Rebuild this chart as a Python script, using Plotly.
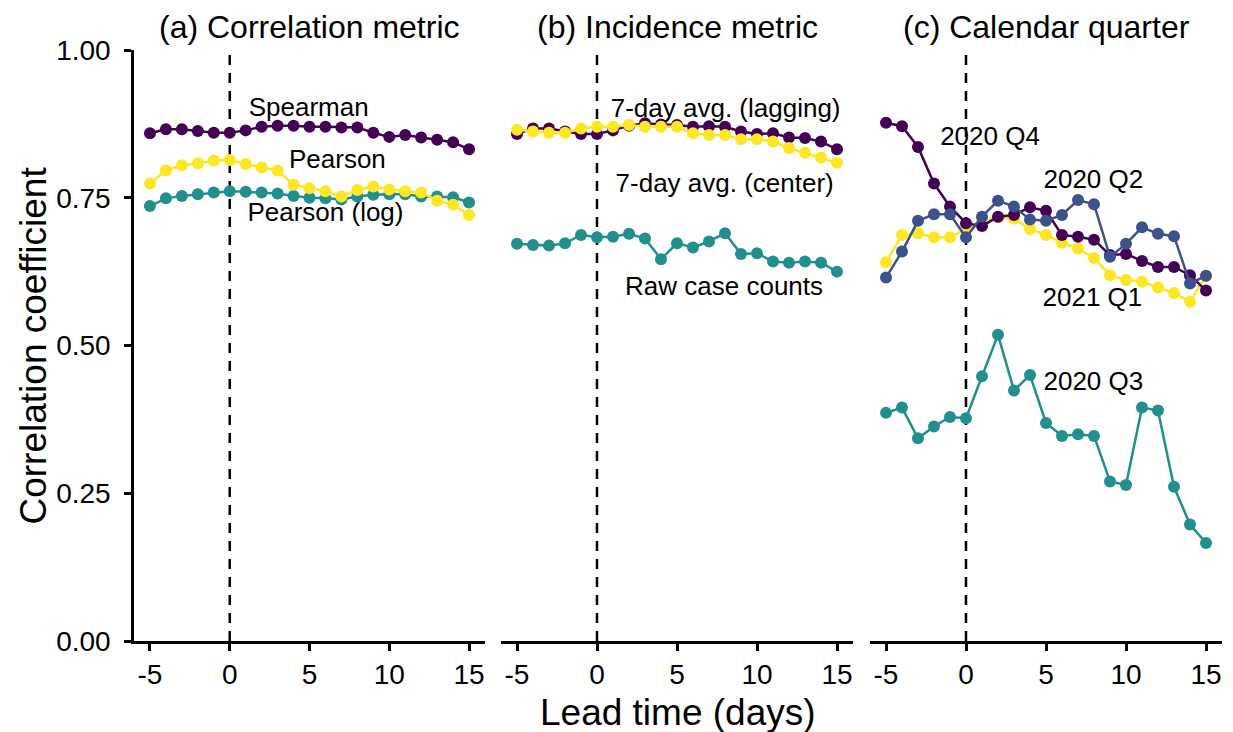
import plotly.graph_objects as go

# ---------------- data ----------------
lead = list(range(-5, 16))

a_spearman = [0.859, 0.866, 0.866, 0.863, 0.860, 0.860, 0.864, 0.870, 0.872, 0.872, 0.870,
              0.870, 0.869, 0.869, 0.860, 0.853, 0.856, 0.852, 0.848, 0.844, 0.832]
a_pearson = [0.774, 0.796, 0.805, 0.808, 0.813, 0.814, 0.807, 0.801, 0.796, 0.772, 0.766,
             0.761, 0.752, 0.763, 0.769, 0.764, 0.761, 0.759, 0.745, 0.738, 0.721]
a_pearson_log = [0.736, 0.749, 0.753, 0.756, 0.759, 0.761, 0.760, 0.759, 0.757, 0.753, 0.750,
                 0.749, 0.747, 0.752, 0.755, 0.756, 0.756, 0.752, 0.752, 0.751, 0.742]

b_lagging = [0.858, 0.867, 0.867, 0.862, 0.858, 0.858, 0.864, 0.872, 0.876, 0.874, 0.873,
             0.870, 0.871, 0.870, 0.862, 0.858, 0.859, 0.852, 0.851, 0.845, 0.832]
b_center = [0.865, 0.862, 0.860, 0.860, 0.867, 0.870, 0.870, 0.873, 0.870, 0.870, 0.870,
            0.859, 0.856, 0.856, 0.849, 0.849, 0.845, 0.834, 0.826, 0.818, 0.809]
b_raw = [0.672, 0.670, 0.669, 0.673, 0.687, 0.683, 0.684, 0.689, 0.681, 0.646, 0.673,
         0.666, 0.676, 0.690, 0.655, 0.656, 0.642, 0.640, 0.642, 0.640, 0.625]

c_q4 = [0.877, 0.871, 0.836, 0.774, 0.735, 0.707, 0.702, 0.718, 0.721, 0.734, 0.728,
        0.687, 0.684, 0.679, 0.653, 0.655, 0.643, 0.633, 0.633, 0.619, 0.593]
c_q2 = [0.615, 0.659, 0.711, 0.722, 0.722, 0.683, 0.718, 0.745, 0.735, 0.713, 0.711,
        0.721, 0.746, 0.739, 0.650, 0.672, 0.700, 0.689, 0.685, 0.605, 0.618]
c_q3 = [0.386, 0.395, 0.343, 0.363, 0.379, 0.377, 0.448, 0.518, 0.424, 0.450, 0.369,
        0.347, 0.350, 0.347, 0.270, 0.264, 0.395, 0.390, 0.261, 0.197, 0.166]
c_q1 = [0.641, 0.687, 0.690, 0.683, 0.683, 0.697, 0.712, 0.717, 0.715, 0.697, 0.687,
        0.674, 0.664, 0.648, 0.619, 0.611, 0.608, 0.598, 0.589, 0.574, 0.617]

panel_titles = ["(a) Correlation metric", "(b) Incidence metric", "(c) Calendar quarter"]
x_ticks = [-5, 0, 5, 10, 15]
x_ticktext = ["-5", "0", "5", "10", "15"]
y_ticks = [0.0, 0.25, 0.5, 0.75, 1.0]
y_ticktext = ["0.00", "0.25", "0.50", "0.75", "1.00"]
vline_x = 0

# labels: (text, x, y) per panel
labels_a = [("Spearman", 4.95, 0.900), ("Pearson", 6.75, 0.811), ("Pearson (log)", 6.0, 0.721)]
labels_b = [("7-day avg. (lagging)", 8.04, 0.898), ("7-day avg. (center)", 7.98, 0.770),
            ("Raw case counts", 7.94, 0.597)]
labels_c = [("2020 Q4", 1.5, 0.850), ("2020 Q2", 7.96, 0.777), ("2021 Q1", 7.9, 0.577),
            ("2020 Q3", 7.96, 0.436)]

PURPLE = "#440154"
BLUE = "#3B528B"
TEAL = "#21908C"
YELLOW = "#FDE725"

FONT = "Liberation Sans, Arial, Helvetica, sans-serif"

panels = [
    ("x", labels_a, [(a_spearman, PURPLE), (a_pearson_log, TEAL), (a_pearson, YELLOW)]),
    ("x2", labels_b, [(b_lagging, PURPLE), (b_raw, TEAL), (b_center, YELLOW)]),
    ("x3", labels_c, [(c_q1, YELLOW), (c_q4, PURPLE), (c_q3, TEAL), (c_q2, BLUE)]),
]

fig = go.Figure()
for xa, labels, series in panels:
    # text labels (drawn first, so reference line and data sit above)
    fig.add_trace(go.Scatter(
        x=[l[1] for l in labels], y=[l[2] for l in labels], text=[l[0] for l in labels],
        mode="text", textposition="middle center",
        textfont=dict(size=26, color="black", family=FONT),
        xaxis=xa, yaxis="y", showlegend=False, hoverinfo="skip", cliponaxis=False))
    # dashed reference line at lead 0
    fig.add_trace(go.Scatter(
        x=[vline_x, vline_x], y=[y_ticks[0], y_ticks[-1]], mode="lines",
        line=dict(color="black", width=2.5, dash="10px,8px"),
        xaxis=xa, yaxis="y", showlegend=False, hoverinfo="skip"))
    for vals, col in series:
        fig.add_trace(go.Scatter(
            x=lead, y=vals, mode="lines+markers",
            line=dict(color=col, width=2.5),
            marker=dict(color=col, size=12),
            xaxis=xa, yaxis="y", showlegend=False, cliponaxis=False))

L, R, T, B = 134, 11, 50, 91
W, H = 1233, 732
pw = W - L - R
doms = [(134, 485), (501, 853), (870, 1222)]
doms = [((a - L) / pw, (b - L) / pw) for a, b in doms]

xcommon = dict(range=[-6, 16], showline=True, linecolor="black", linewidth=2.5,
               ticks="outside", ticklen=7, tickwidth=2.5, tickcolor="black",
               tickvals=x_ticks, ticktext=x_ticktext, showgrid=False, zeroline=False,
               tickfont=dict(size=28, color="black", family=FONT), anchor="y")

fig.update_layout(
    width=W, height=H,
    margin=dict(l=L, r=R, t=T, b=B),
    plot_bgcolor="white", paper_bgcolor="white",
    font=dict(family=FONT, color="black"),
    xaxis=dict(domain=list(doms[0]), **xcommon),
    xaxis2=dict(domain=list(doms[1]), **xcommon),
    xaxis3=dict(domain=list(doms[2]), **xcommon),
    yaxis=dict(range=[0, 1], showline=True, linecolor="black", linewidth=2.5,
               ticks="outside", ticklen=7, tickwidth=2.5, tickcolor="black",
               tickvals=y_ticks, ticktext=y_ticktext, showgrid=False, zeroline=False,
               tickfont=dict(size=28, color="black", family=FONT), anchor="x",
               ticklabelstandoff=8),
    showlegend=False,
)

annotations = []
for (d0, d1), title in zip(doms, panel_titles):
    annotations.append(dict(text=title, x=(d0 + d1) / 2, y=1, xref="paper", yref="paper",
                            xanchor="center", yanchor="bottom", yshift=3, showarrow=False,
                            font=dict(size=32, color="black", family=FONT)))
annotations.append(dict(text="Lead time (days)", x=0.5, y=0, xref="paper", yref="paper",
                        xanchor="center", yanchor="middle", yshift=-71, showarrow=False,
                        font=dict(size=37, color="black", family=FONT)))
annotations.append(dict(text="Correlation coefficient", x=0, y=0.5, xref="paper", yref="paper",
                        xanchor="center", yanchor="middle", xshift=-101, textangle=-90,
                        showarrow=False, font=dict(size=37, color="black", family=FONT)))
fig.update_layout(annotations=annotations)

fig.write_html("out.html", config={"displayModeBar": False},
               post_script="document.body.style.margin='0';document.body.style.padding='0';")
